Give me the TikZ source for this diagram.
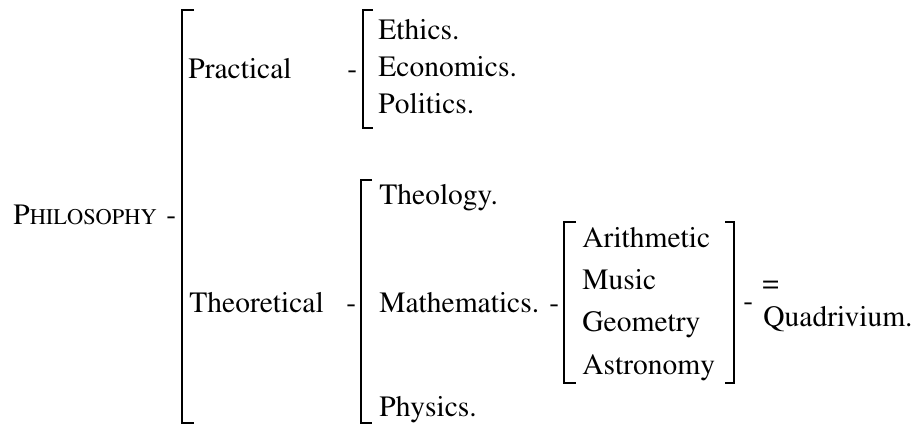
\documentclass[tikz,border=0pt]{standalone}
\usepackage[T1]{fontenc}
\usepackage{mathptmx}
\usetikzlibrary{positioning}
\tikzset{
  treetext/.style={
    inner sep=0pt, anchor=base west,
    font=\fontsize{14.75}{18}\selectfont
  },
  bracketline/.style={line width=1pt, line join=miter},
}
\newcommand{\fakesc}[2]{#1{\fontsize{11.2}{13}\selectfont #2}}

\begin{document}
\begin{tikzpicture}[x=0.5pt, y=-0.5pt]
  \useasboundingbox (0,0) rectangle (915,426);
  % root of the division
  \node[treetext] (philo) at (13,225) {\fakesc{P}{HILOSOPHY}};
  \node[treetext] (philodash) at (166,225) {-};
  \coordinate (rootT) at (194,10);
  \coordinate (rootB) at (194,423);
  \draw[bracketline] (rootT) -- ++(-12,0) |- (rootB);
  % practical branch
  \node[treetext] (pract) at (188,79) {Practical};
  \node[treetext] (practdash) at (347,79) {-};
  \coordinate (practT) at (373,10);
  \coordinate (practB) at (373,128);
  \draw[bracketline] (practT) -- ++(-10,0) |- (practB);
  \node[treetext] (ethics) at (378,40) {Ethics.};
  \node[treetext] (econ) at (378,77) {Economics.};
  \node[treetext] (polit) at (378,114) {Politics.};
  % theoretical branch
  \node[treetext] (theor) at (189,313) {Theoretical};
  \node[treetext] (theordash) at (346,313) {-};
  \coordinate (theorT) at (372,180);
  \coordinate (theorB) at (372,423);
  \draw[bracketline] (theorT) -- ++(-11,0) |- (theorB);
  \node[treetext] (theol) at (379,205) {Theology.};
  \node[treetext] (mathem) at (379,313) {Mathematics.};
  \node[treetext] (phys) at (379,417) {Physics.};
  \node[treetext] (mathdash) at (549,313) {-};
  % the four mathematical arts
  \coordinate (quadLT) at (576,222);
  \coordinate (quadLB) at (576,383);
  \draw[bracketline] (quadLT) -- ++(-12,0) |- (quadLB);
  \coordinate (quadRT) at (725,222);
  \coordinate (quadRB) at (725,383);
  \draw[bracketline] (quadRT) -- ++(9,0) |- (quadRB);
  \node[treetext] (arith) at (582,248) {Arithmetic};
  \node[treetext] (music) at (582,290) {Music};
  \node[treetext] (geom) at (582,332) {Geometry};
  \node[treetext] (astro) at (582,375) {Astronomy};
  \node[treetext] (quaddash) at (743,311) {-};
  \node[treetext] (equals) at (762,293) {=};
  \node[treetext] (quadriv) at (763,327) {Quadrivium.};
\end{tikzpicture}
\end{document}
